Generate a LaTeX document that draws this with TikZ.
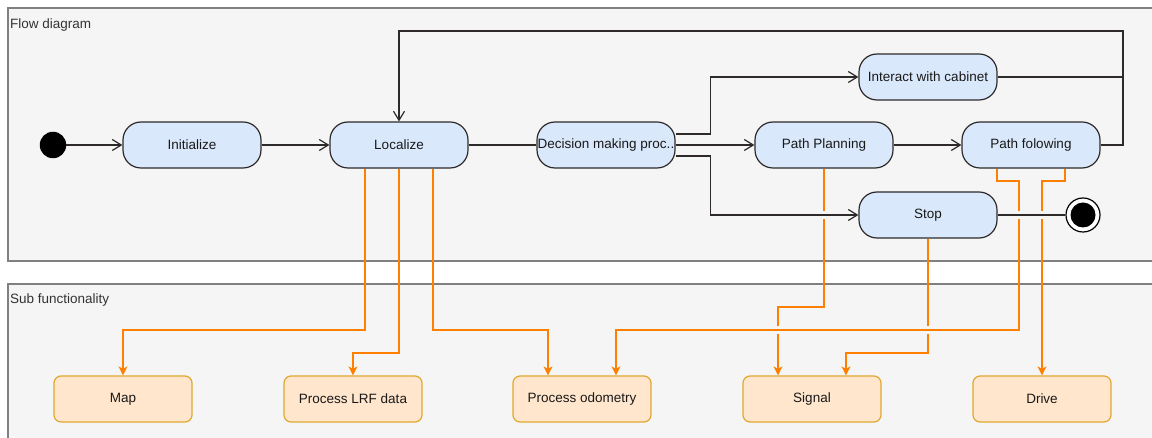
\documentclass[tikz,border=0pt]{standalone}
\usepackage{fontspec}
\setmainfont{Liberation Sans}
\usetikzlibrary{arrows.meta,calc}
\definecolor{panelfill}{HTML}{F5F5F5}
\definecolor{panelline}{HTML}{808080}
\definecolor{paneltext}{HTML}{333333}
\definecolor{statefill}{HTML}{DAE8FC}
\definecolor{inkline}{HTML}{2E2A2A}
\definecolor{taskfill}{HTML}{FFE6CC}
\definecolor{taskline}{HTML}{E0A830}
\definecolor{subline}{HTML}{FF8000}
\begin{document}
\begin{tikzpicture}[x=1bp,y=-1bp,
  every node/.style={font=\fontsize{13.5bp}{16bp}\selectfont, text=black!90},
  panel/.style={draw=panelline, fill=panelfill, line width=1.1bp},
  paneltitle/.style={anchor=west, inner sep=0pt, text=paneltext},
  statebox/.style={draw=inkline, fill=statefill, line width=1.2bp, rounded corners=18bp,
    minimum width=138bp, minimum height=46bp, inner sep=0pt},
  taskbox/.style={draw=taskline, fill=taskfill, line width=1.2bp, rounded corners=7bp,
    minimum width=138bp, minimum height=46bp, inner sep=0pt},
  flow/.style={draw=inkline, line width=1.2bp, -{Straight Barb[length=9bp,width=11bp]}},
  flowline/.style={draw=inkline, line width=1.2bp},
  sub/.style={draw=subline, line width=1.2bp, -{Stealth[length=9bp,width=9bp,inset=2.5bp]}},
  jump/.style={fill=panelfill, draw=none},
]
\useasboundingbox (0,0) rectangle (1152,438);
\clip (0,0) rectangle (1152,438);

% panels
\draw[panel] (8,8) rectangle (1170,261);
\draw[panel] (8,284) rectangle (1170,460);
\node[paneltitle] (t1) at (10,25) {Flow diagram};
\node[paneltitle] (t2) at (10,300) {Sub functionality};

% routing levels
\coordinate (r1) at (0,330);
\coordinate (r2) at (0,353);
\coordinate (r3) at (0,307);
\coordinate (r4) at (0,181);
\coordinate (loopc) at (1123,31);

% states
\node[circle, fill=black, minimum size=26.5bp, inner sep=0pt] (start) at (53,145) {};
\node[statebox] (init) at (192,145) {Initialize};
\node[statebox] (loc) at (399,145) {Localize};
\node[statebox] (dec) at (606,145) {\makebox[0pt][c]{Decision making proc..}};
\node[statebox] (pp) at (824,145) {Path Planning};
\node[statebox] (ic) at (928,77) {Interact with cabinet};
\node[statebox] (pf) at (1031,145) {Path folowing};
\node[statebox] (stop) at (928,215) {Stop};
\node[circle, draw=black, fill=white, line width=1.2bp, minimum size=34bp, inner sep=0pt] (end) at (1083,215) {};
\fill[black] (end.center) circle (12.5bp);

% sub functions
\node[taskbox] (map) at (123,399) {Map};
\node[taskbox] (lrf) at (353,399) {Process LRF data};
\node[taskbox] (odo) at (582,399) {Process odometry};
\node[taskbox] (sig) at (812,399) {Signal};
\node[taskbox] (drv) at (1042,399) {Drive};

% sub-function links
\draw[sub] ($(loc.south)+(-34,0)$) |- (map.north |- r1) -- (map.north);
\draw[sub] (loc.south) |- (lrf.north |- r2) -- (lrf.north);
\draw[sub] ($(loc.south)+(34,0)$) |- ($(odo.north |- r1)+(-34,0)$) -- ($(odo.north)+(-34,0)$);
\draw[sub] (pp.south) |- ($(sig.north |- r3)+(-34,0)$) -- ($(sig.north)+(-34,0)$);
\draw[sub] (stop.south) |- ($(sig.north |- r2)+(34,0)$) -- ($(sig.north)+(34,0)$);
% line jumps on the crossing verticals
\fill[jump] ($(sig.north |- r1)+(-36,-4)$) rectangle ++(4,8);
\fill[jump] ($(stop.south |- r1)+(-2,-4)$) rectangle ++(4,8);
\draw[sub] ($(pf.south)+(-34,0)$) |- ($(pf.south |- r4)+(-12,0)$)
  |- ($(odo.north |- r1)+(34,0)$) -- ($(odo.north)+(34,0)$);
\draw[sub] ($(pf.south)+(34,0)$) |- (drv.north |- r4) -- (drv.north);

% line jumps where the flow crosses the sub-function links
\fill[jump] ($(pp.south |- stop)+(-2,-4)$) rectangle ++(4,8);
\fill[jump] ($(pf.south |- stop)+(-14,-4)$) rectangle ++(4,8);
\fill[jump] ($(drv.north |- stop)+(-2,-4)$) rectangle ++(4,8);

% main flow
\draw[flow] (start) -- (init);
\draw[flow] (init) -- (loc);
\draw[flowline] (loc) -- (dec.west);
\draw[flow] (dec) -- (pp);
\draw[flow] ($(dec.east)+(0,-11)$) -- ++(35,0) |- (ic.west);
\draw[flow] ($(dec.east)+(0,11)$) -- ++(35,0) |- (stop.west);
\draw[flow] (pp) -- (pf);
\draw[flowline] (ic.east) -- (ic.east -| loopc);
\draw[flow] (pf.east) -| (loopc) -| (loc.north);
\draw[flowline] (stop.east) -- (end.west);
\end{tikzpicture}
\end{document}
